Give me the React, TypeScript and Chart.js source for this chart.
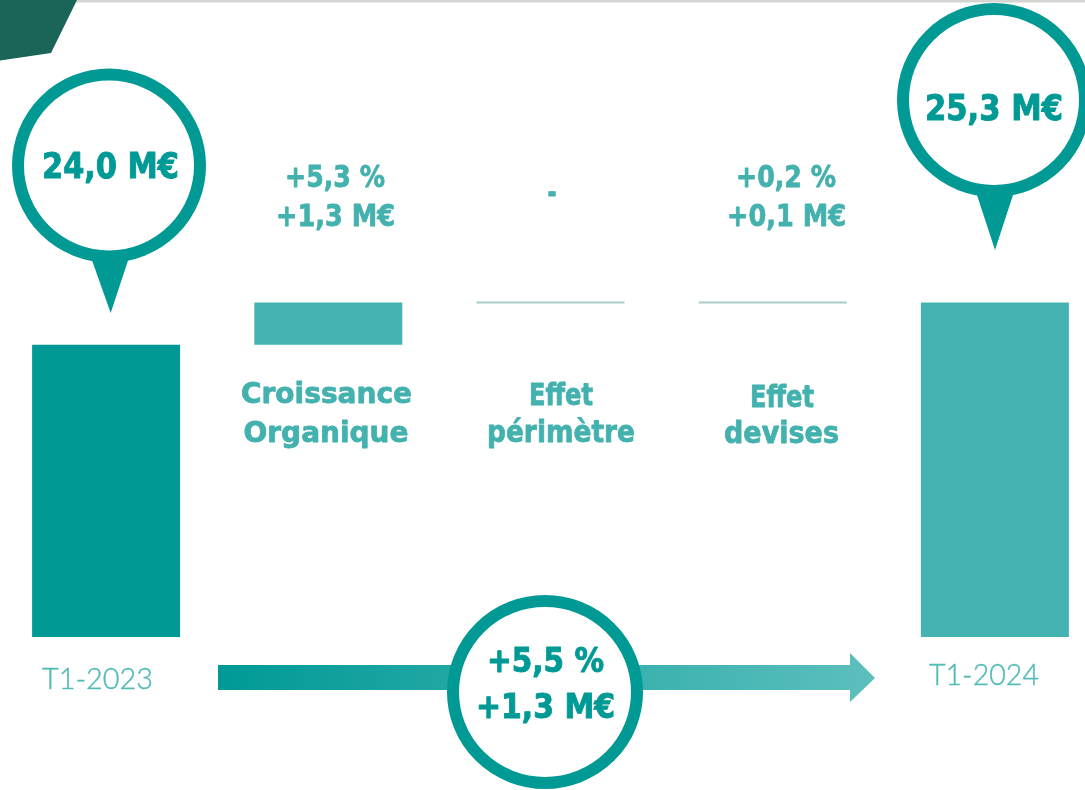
import React, { useEffect, useRef } from "react";
import { Chart, registerables } from "chart.js";

Chart.register(...registerables);

// ---- data ----
const categories = ["T1-2023", "Croissance Organique", "Effet périmètre", "Effet devises", "T1-2024"];
const totalValues: (number | null)[] = [24.0, null, null, null, 25.3];
const stepFrom: (number | null)[] = [null, 24.0, 25.3, 25.3, null];
const stepTo: (number | null)[] = [null, 25.3, 25.3, 25.3, null];
const totalLabels = ["24,0 M€", "", "", "", "25,3 M€"];
const pctLabels = ["", "+5,3 %", "-", "+0,2 %", ""];
const amountLabels = ["", "+1,3 M€", "", "+0,1 M€", ""];
const nameLines: string[][] = [["T1-2023"], ["Croissance", "Organique"], ["Effet", "périmètre"], ["Effet", "devises"], ["T1-2024"]];
const variationLabels = ["+5,5 %", "+1,3 M€"];

const DARK = "#009995";
const LIGHT = "#44b3b1";
const LABEL = "#43b1ae";
const BIG = "#009a96";
const OFFSET_X = 5;
const BOLD_FONT = '"DejaVu Sans", sans-serif';
const LIGHT_FONT = 'Lato, "DejaVu Sans", sans-serif';

function fitText(ctx: CanvasRenderingContext2D, text: string, cx: number, baseline: number, size: number, weight: string, family: string, width: number, color: string, extra = 0) {
  if (!text) return;
  ctx.save();
  ctx.font = `${weight} ${size}px ${family}`;
  const w = ctx.measureText(text).width || 1;
  ctx.translate(cx, baseline);
  ctx.scale(width / w, 1);
  ctx.textAlign = "center";
  ctx.textBaseline = "alphabetic";
  ctx.fillStyle = color;
  ctx.fillText(text, 0, 0);
  if (extra > 0) {
    ctx.lineWidth = extra;
    ctx.lineJoin = "round";
    ctx.strokeStyle = color;
    ctx.strokeText(text, 0, 0);
  }
  ctx.restore();
}

function drawPin(ctx: CanvasRenderingContext2D, cx: number, cy: number, tipX: number, tipY: number) {
  ctx.fillStyle = "#009994";
  ctx.beginPath();
  ctx.moveTo(cx - 18, cy + 92);
  ctx.lineTo(cx + 20, cy + 92);
  ctx.lineTo(tipX, tipY);
  ctx.closePath();
  ctx.fill();
  ctx.beginPath();
  ctx.arc(cx, cy, 91, 0, Math.PI * 2);
  ctx.fillStyle = "#ffffff";
  ctx.fill();
  ctx.lineWidth = 12;
  ctx.strokeStyle = "#009994";
  ctx.stroke();
}

const overlayPlugin = {
  id: "overlay",
  afterDatasetsDraw(chart: any) {
    const ctx: CanvasRenderingContext2D = chart.ctx;
    const meta = chart.getDatasetMeta(0);
    meta.data.forEach((bar: any, i: number) => {
      if (stepFrom[i] !== null && stepFrom[i] === stepTo[i]) {
        ctx.save();
        ctx.strokeStyle = "#a7cecb";
        ctx.lineWidth = 2;
        ctx.beginPath();
        ctx.moveTo(bar.x - bar.width / 2, bar.y);
        ctx.lineTo(bar.x + bar.width / 2, bar.y);
        ctx.stroke();
        ctx.restore();
      }
    });
  },
  afterDraw(chart: any) {
    const ctx: CanvasRenderingContext2D = chart.ctx;
    ctx.save();
    ctx.translate(OFFSET_X, 0);

    // top decoration
    ctx.fillStyle = "#d4d4d0";
    ctx.fillRect(76, 0, 1020, 2.5);
    ctx.fillStyle = "#1a6458";
    ctx.beginPath();
    ctx.moveTo(-10, 0);
    ctx.lineTo(77, 0);
    ctx.lineTo(51, 53);
    ctx.lineTo(-10, 62);
    ctx.closePath();
    ctx.fill();

    // pins with totals
    drawPin(ctx, 109, 165.5, 110.7, 313);
    fitText(ctx, totalLabels[0], 110.5, 178, 36, "bold", BOLD_FONT, 137, BIG, 1);
    drawPin(ctx, 994, 100, 995, 250);
    fitText(ctx, totalLabels[4], 994, 120, 36, "bold", BOLD_FONT, 138, BIG, 1);

    // step labels
    fitText(ctx, pctLabels[1], 335, 187, 31, "bold", BOLD_FONT, 100, LABEL, 0.8);
    fitText(ctx, amountLabels[1], 335.5, 226, 31, "bold", BOLD_FONT, 119, LABEL, 0.8);
    fitText(ctx, pctLabels[2], 552, 203, 31, "bold", BOLD_FONT, 9, LABEL, 0.8);
    fitText(ctx, pctLabels[3], 786, 187, 31, "bold", BOLD_FONT, 100, LABEL, 0.8);
    fitText(ctx, amountLabels[3], 786.5, 226, 31, "bold", BOLD_FONT, 119, LABEL, 0.8);

    // category names
    fitText(ctx, nameLines[1][0], 326.5, 403, 29, "bold", BOLD_FONT, 171, LABEL, 0.8);
    fitText(ctx, nameLines[1][1], 326, 442, 29, "bold", BOLD_FONT, 165, LABEL, 0.8);
    fitText(ctx, nameLines[2][0], 561, 405, 30, "bold", BOLD_FONT, 64, LABEL, 0.8);
    fitText(ctx, nameLines[2][1], 561, 442, 30, "bold", BOLD_FONT, 148, LABEL, 0.8);
    fitText(ctx, nameLines[3][0], 782, 407, 30, "bold", BOLD_FONT, 64, LABEL, 0.8);
    fitText(ctx, nameLines[3][1], 781.5, 443, 30, "bold", BOLD_FONT, 115, LABEL, 0.8);
    fitText(ctx, nameLines[0][0], 97.5, 689, 30, "300", LIGHT_FONT, 111, "#52bbb8", 0.4);
    fitText(ctx, nameLines[4][0], 984, 685, 30, "300", LIGHT_FONT, 110, "#52bbb8", 0.4);

    // bottom arrow
    const grad = ctx.createLinearGradient(218, 0, 875, 0);
    grad.addColorStop(0, "#009a96");
    grad.addColorStop(1, "#5cbfbd");
    ctx.fillStyle = grad;
    ctx.fillRect(218, 665, 633, 25);
    ctx.beginPath();
    ctx.moveTo(850, 653);
    ctx.lineTo(875, 678);
    ctx.lineTo(850, 702);
    ctx.closePath();
    ctx.fill();

    // bottom ellipse
    ctx.beginPath();
    ctx.ellipse(545, 692, 92, 91, 0, 0, Math.PI * 2);
    ctx.fillStyle = "#ffffff";
    ctx.fill();
    ctx.lineWidth = 12;
    ctx.strokeStyle = "#009994";
    ctx.stroke();
    fitText(ctx, variationLabels[0], 545.5, 672, 34, "bold", BOLD_FONT, 117, BIG, 1);
    fitText(ctx, variationLabels[1], 545.5, 718, 34, "bold", BOLD_FONT, 139, BIG, 1);

    ctx.restore();
  },
};

export default function App() {
  const ref = useRef<HTMLCanvasElement>(null);
  useEffect(() => {
    if (!ref.current) return;
    const data = categories.map((_, i) =>
      totalValues[i] !== null ? totalValues[i] : [stepFrom[i], stepTo[i]]
    );
    const colors = categories.map((_, i) =>
      i === 0 ? DARK : stepFrom[i] !== null && stepFrom[i] === stepTo[i] ? "rgba(0,0,0,0)" : LIGHT
    );
    const chart = new Chart(ref.current, {
      type: "bar",
      data: {
        labels: categories,
        datasets: [
          {
            data: data as any,
            backgroundColor: colors,
            borderWidth: 0,
            barPercentage: 0.666,
            categoryPercentage: 1,
          },
        ],
      },
      options: {
        responsive: false,
        maintainAspectRatio: false,
        devicePixelRatio: 1,
        animation: false,
        layout: { padding: { top: 150, bottom: 153, left: 0, right: 0 } },
        plugins: { legend: { display: false }, tooltip: { enabled: false } },
        scales: {
          x: { display: false, grid: { display: false } },
          y: { display: false, min: 15, max: 30, grid: { display: false } },
        },
      },
      plugins: [overlayPlugin],
    });
    return () => chart.destroy();
  }, []);

  return (
    <div style={{ position: "fixed", left: 0, top: 0, width: 1085, height: 790, overflow: "hidden", background: "#ffffff" }}>
      <canvas
        ref={ref}
        width={1111}
        height={790}
        style={{ position: "absolute", left: -OFFSET_X, top: 0, width: 1111, height: 790 }}
      />
    </div>
  );
}
